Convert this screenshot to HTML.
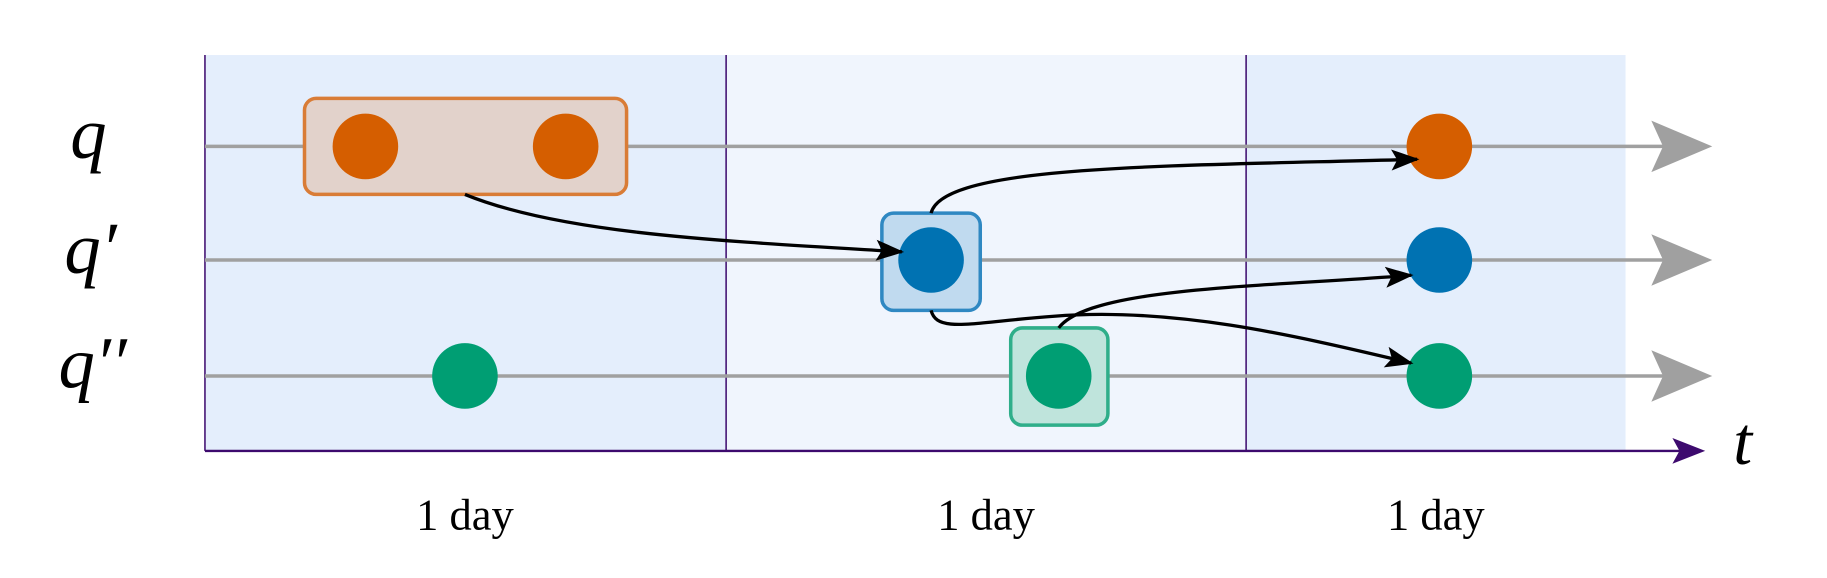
<!DOCTYPE html>
<html><head><meta charset="utf-8"><style>html,body{margin:0;padding:0;background:#fff}svg{display:block}</style></head>
<body>
<svg width="1827" height="578" viewBox="0 0 1560 493.5" preserveAspectRatio="none" font-family="Liberation Serif, serif">
<defs>
<marker id="ah" markerWidth="24" markerHeight="18" refX="22" refY="9" orient="auto" markerUnits="userSpaceOnUse" viewBox="0 0 24 18"><path d="M0,0 L24,9 L0,18 L5,9z" fill="#000"/></marker>
</defs>
<g>
<rect x="175" y="47" width="445" height="338" fill="#e4eefc"/>
<rect x="620" y="47" width="444" height="338" fill="#f0f5fd"/>
<rect x="1064" y="47" width="324" height="338" fill="#e4eefc"/>
</g>
<g stroke="#3d0a6e" stroke-width="1.3">
<line x1="175" y1="47" x2="175" y2="385"/><line x1="620" y1="47" x2="620" y2="385"/><line x1="1064" y1="47" x2="1064" y2="385"/>
</g>
<g stroke="#a0a0a0" stroke-width="3" fill="#a0a0a0">
<line x1="175" y1="125" x2="1440" y2="125"/><path d="M1410,103 L1462,125 L1410,147 L1420,125z" stroke="none"/>
<line x1="175" y1="222" x2="1440" y2="222"/><path d="M1410,200 L1462,222 L1410,244 L1420,222z" stroke="none"/>
<line x1="175" y1="321" x2="1440" y2="321"/><path d="M1410,299 L1462,321 L1410,343 L1420,321z" stroke="none"/>
</g>
<g>
<line x1="175" y1="385" x2="1440" y2="385" stroke="#3d0a6e" stroke-width="2"/>
<path d="M1428,374 L1456,385 L1428,396 L1434,385z" fill="#3d0a6e"/>
<text x="1480" y="396" font-size="58" font-style="italic">t</text>
</g>
<g font-size="62" font-style="italic">
<text x="60" y="135">q</text><text x="55" y="233">q′</text><text x="50" y="331">q′′</text>
</g>
<g font-size="38" text-anchor="middle">
<text x="397" y="452">1 day</text><text x="842" y="452">1 day</text><text x="1226" y="452">1 day</text>
</g>
<rect x="260" y="84" width="275" height="82" rx="10" fill="#e2d2cb" stroke="#d97c36" stroke-width="3"/>
<rect x="753" y="182" width="84" height="83" rx="10" fill="#c0daef" stroke="#2f88c2" stroke-width="3"/>
<rect x="863" y="280" width="83" height="83" rx="10" fill="#bfe4dc" stroke="#2fae8a" stroke-width="3"/>
<g>
<circle cx="312" cy="125" r="28" fill="#d55e00"/><circle cx="483" cy="125" r="28" fill="#d55e00"/><circle cx="1229" cy="125" r="28" fill="#d55e00"/>
<circle cx="795" cy="222" r="28" fill="#0072b2"/><circle cx="1229" cy="222" r="28" fill="#0072b2"/>
<circle cx="397" cy="321" r="28" fill="#009e73"/><circle cx="904" cy="321" r="28" fill="#009e73"/><circle cx="1229" cy="321" r="28" fill="#009e73"/>
</g>
<g fill="none" stroke="#000" stroke-width="2.8" marker-end="url(#ah)">
<path d="M397,166 C480,200 620,206 770,215"/>
<path d="M795,182 C805,140 1000,142 1210,136"/>
<path d="M904,280 C930,245 1080,245 1205,235"/>
<path d="M795,265 C800,285 830,275 900,270 C1000,262 1100,285 1205,310"/>
</g>
</svg>
</body></html>
